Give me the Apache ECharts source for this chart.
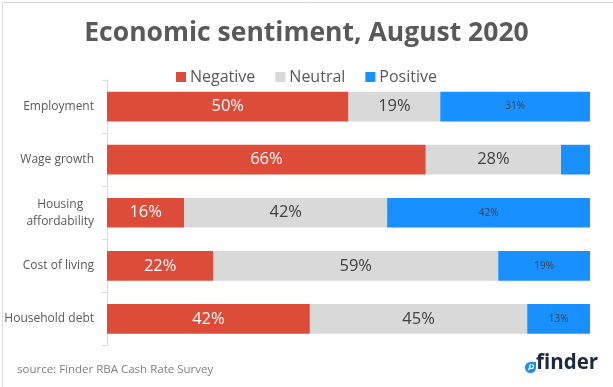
<!DOCTYPE html>
<html><head><meta charset="utf-8">
<script src="https://cdn.jsdelivr.net/npm/echarts@6/dist/echarts.min.js"></script>
<style>html,body{margin:0;padding:0;background:#fff}#c{width:613px;height:387px}</style>
</head><body><div id="c"></div>
<script>
const categories = ['Employment', 'Wage growth', 'Housing\naffordability', 'Cost of living', 'Household debt'];
const negative = [50, 66, 16, 22, 42];
const neutral = [19, 28, 42, 59, 45];
const positive = [31, 6, 42, 19, 13];
const positiveLabelShown = [true, false, true, true, true];

const FONT = '"Open Sans", "Noto Sans", sans-serif';
const chart = echarts.init(document.getElementById('c'));
chart.setOption({
  animation: false,
  backgroundColor: '#fff',
  title: {
    text: 'Economic sentiment, August 2020',
    left: 'center', top: 15,
    textStyle: { fontFamily: FONT, fontSize: 26.5, fontWeight: 'bold', color: '#595959' }
  },
  legend: {
    top: 64, left: 'center', itemWidth: 10, itemHeight: 10, itemGap: 20,
    icon: 'rect',
    textStyle: { fontFamily: FONT, fontSize: 16, color: '#595959', padding: [0, 0, 0, -1] },
    data: ['Negative', 'Neutral', 'Positive']
  },
  grid: { left: 107, right: 23, top: 80, bottom: 41.5 },
  xAxis: { type: 'value', min: 0, max: 100, show: false },
  yAxis: {
    type: 'category', inverse: true, data: categories,
    axisLine: { lineStyle: { color: '#d9d9d9' } },
    axisTick: { show: true, length: 5, lineStyle: { color: '#d9d9d9' } },
    axisLabel: {
      margin: 13, fontFamily: FONT, fontSize: 12, color: '#595959', lineHeight: 17,
      formatter: v => v.split('\n').map(s => '{c|' + s + '}').join('\n'),
      rich: { c: { align: 'center', fontFamily: FONT, fontSize: 12, color: '#595959', lineHeight: 17 } }
    }
  },
  series: [
    {
      name: 'Negative', type: 'bar', stack: 's', data: negative, barCategoryGap: '44%',
      itemStyle: { color: '#dd4c39' },
      label: { show: true, position: 'inside', formatter: '{c}%', fontFamily: FONT, fontSize: 16.5, color: '#fff' }
    },
    {
      name: 'Neutral', type: 'bar', stack: 's', data: neutral,
      itemStyle: { color: '#d9d9d9' },
      label: { show: true, position: 'inside', formatter: '{c}%', fontFamily: FONT, fontSize: 16.5, color: '#404040' }
    },
    {
      name: 'Positive', type: 'bar', stack: 's',
      data: positive.map((v, i) => ({ value: v, label: { show: positiveLabelShown[i] } })),
      itemStyle: { color: '#1890ff' },
      label: { show: true, position: 'inside', formatter: '{c}%', fontFamily: FONT, fontSize: 10, color: '#404040' }
    }
  ],
  graphic: [
    { type: 'rect', left: 0, top: 0, shape: { width: 612, height: 386 }, style: { fill: 'none', stroke: '#d9d9d9', lineWidth: 1 }, z: 100, silent: true },
    { type: 'text', left: 17, top: 364, style: { text: 'source: Finder RBA Cash Rate Survey', fontFamily: FONT, fontSize: 11.5, fill: '#7f7f7f' } },
    { type: 'circle', shape: { cx: 530.5, cy: 367.5, r: 5.5 }, style: { fill: '#1a8fe8' } },
    { type: 'rect', shape: { x: 530, y: 362, width: 6, height: 6 }, style: { fill: '#1a8fe8' } },
    { type: 'circle', shape: { cx: 531.5, cy: 366.5, r: 2 }, style: { fill: 'none', stroke: '#fff', lineWidth: 1.2 } },
    { type: 'line', shape: { x1: 530, y1: 368, x2: 528, y2: 370 }, style: { stroke: '#fff', lineWidth: 1.2 } },
    { type: 'text', left: 536, top: 353, style: { text: 'finder', fontFamily: FONT, fontSize: 20.5, fontWeight: 'bold', fill: '#1b2940' } }
  ]
});
</script></body></html>
